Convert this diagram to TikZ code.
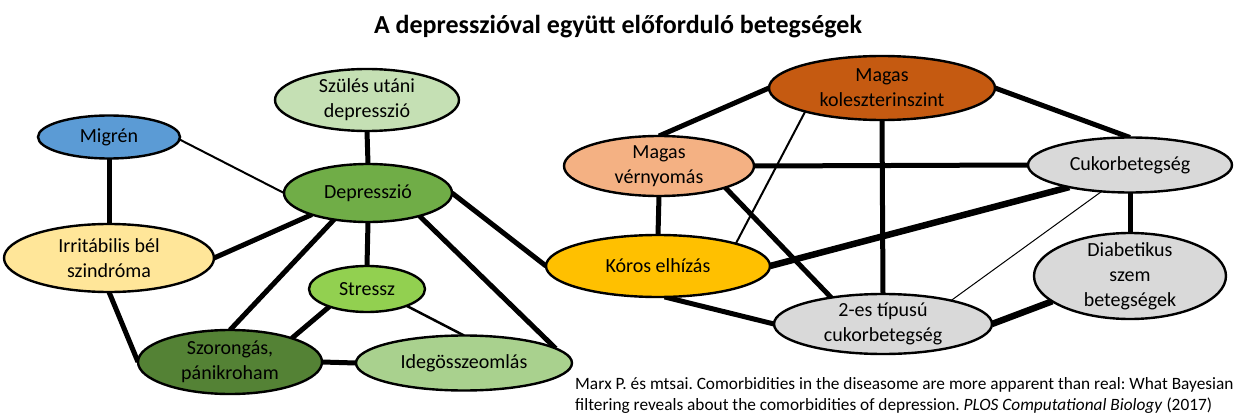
\documentclass[tikz,border=0pt]{standalone}
\usepackage{fontspec}
\setmainfont{Carlito}
\usetikzlibrary{shapes.geometric}
\pgfdeclarelayer{bg}
\pgfsetlayers{bg,main}
\definecolor{cMig}{HTML}{5B9BD5}
\definecolor{cSzul}{HTML}{C5E0B4}
\definecolor{cDep}{HTML}{70AD47}
\definecolor{cStr}{HTML}{92D050}
\definecolor{cSzor}{HTML}{548235}
\definecolor{cIde}{HTML}{A9D18E}
\definecolor{cIrr}{HTML}{FFE699}
\definecolor{cKol}{HTML}{C55A11}
\definecolor{cVer}{HTML}{F4B183}
\definecolor{cKor}{HTML}{FFC000}
\definecolor{cGry}{HTML}{D9D9D9}
\frenchspacing
\begin{document}
\begin{tikzpicture}[x=1pt,y=-1pt,
  ell/.style n args={2}{ellipse, draw=black, line width=2.4pt, inner xsep=0pt, inner ysep=-8pt,
     outer sep=0pt, minimum width=#1, minimum height=#2, align=center,
     font=\fontsize{20}{25}\selectfont},
  thickline/.style={line width=5pt},
  heavyline/.style={line width=6.5pt},
  thinline/.style={line width=2pt},
  hairline/.style={line width=1pt}]
\useasboundingbox (0,0) rectangle (1240,420);

\node[font=\fontsize{26}{30}\selectfont\bfseries] (title) at (618,27) {A depresszióval együtt előforduló betegségek};

% left cluster
\node[ell={184}{62}, fill=cSzul] (szul) at (367,100) {Szülés utáni\\depresszió};
\node[ell={142}{43}, fill=cMig] (mig) at (109,137) {Migrén};
\node[ell={168}{58}, fill=cDep] (dep) at (368,193) {Depresszió};
\node[ell={210}{68}, fill=cIrr] (irr) at (109,258) {Irritábilis bél\\szindróma};
\node[ell={116}{46}, fill=cStr] (str) at (367,289) {Stressz};
\node[ell={184}{64}, fill=cSzor] (szor) at (230,362) {Szorongás,\\pánikroham};
\node[ell={216}{55}, fill=cIde] (ide) at (464,363) {Idegösszeomlás};

% right cluster
\node[ell={226}{64}, fill=cKol] (kol) at (882,88) {Magas\\koleszterinszint};
\node[ell={190}{60}, fill=cVer] (ver) at (659,166) {Magas\\vérnyomás};
\node[ell={204}{55}, fill=cGry] (cuk) at (1130,165) {Cukorbetegség};
\node[ell={224}{62}, fill=cKor] (kor) at (658,266) {Kóros elhízás};
\node[ell={192}{86}, fill=cGry] (dia) at (1130,276) {Diabetikus\\szem\\betegségek};
\node[ell={218}{60}, fill=cGry] (t2) at (883,324) {2-es típusú\\cukorbetegség};

\node[anchor=north west, inner sep=0pt, align=left, font=\fontsize{17.3}{21}\selectfont] (cite) at (575,377)
  {Marx P. és mtsai. Comorbidities in the diseasome are more apparent than real: What Bayesian\\
   filtering reveals about the comorbidities of depression. \textit{PLOS Computational Biology} (2017)};

\begin{pgfonlayer}{bg}
  \draw[thinline] (mig.-2) -- (dep.180);
  \draw[thickline] (mig.south) -- (irr.north);
  \draw[thickline] (szul.south) -- (dep.north);
  \draw[thickline] (irr.0) -- (dep.201);
  \draw[thickline] (dep.218) -- (szor.north);
  \draw[thickline] (dep.south) -- (str.north);
  \draw[thickline] (dep.-24) -- (ide.9);
  \draw[thickline] (dep.east) -- (kor.west);
  \draw[thickline] (irr.south) -- (szor.west);
  \draw[thickline] (str.205) -- (szor.21);
  \draw[thinline, line width=2.5pt] (str.-23) -- (ide.north);
  \draw[thickline] (szor.east) -- (ide.west);

  \draw[thickline] (kol.west) -- (ver.north);
  \draw[thickline] (kol.east) -- (cuk.north);
  \draw[thinline] (kol.197) -- (kor.16);
  \draw[thickline] (kol.south) -- (t2.north);
  \draw[thickline] (ver.east) -- (cuk.west);
  \draw[thickline] (ver.south) -- (kor.north);
  \draw[thickline] (ver.-18) -- (t2.153);
  \draw[heavyline] (kor.east) -- (cuk.200);
  \draw[hairline] (cuk.223) -- (t2.19);
  \draw[thickline] (cuk.south) -- (dia.north);
  \draw[thickline] (kor.-78) -- (t2.west);
  \draw[heavyline] (dia.198) -- (t2.east);
\end{pgfonlayer}
\end{tikzpicture}
\end{document}
